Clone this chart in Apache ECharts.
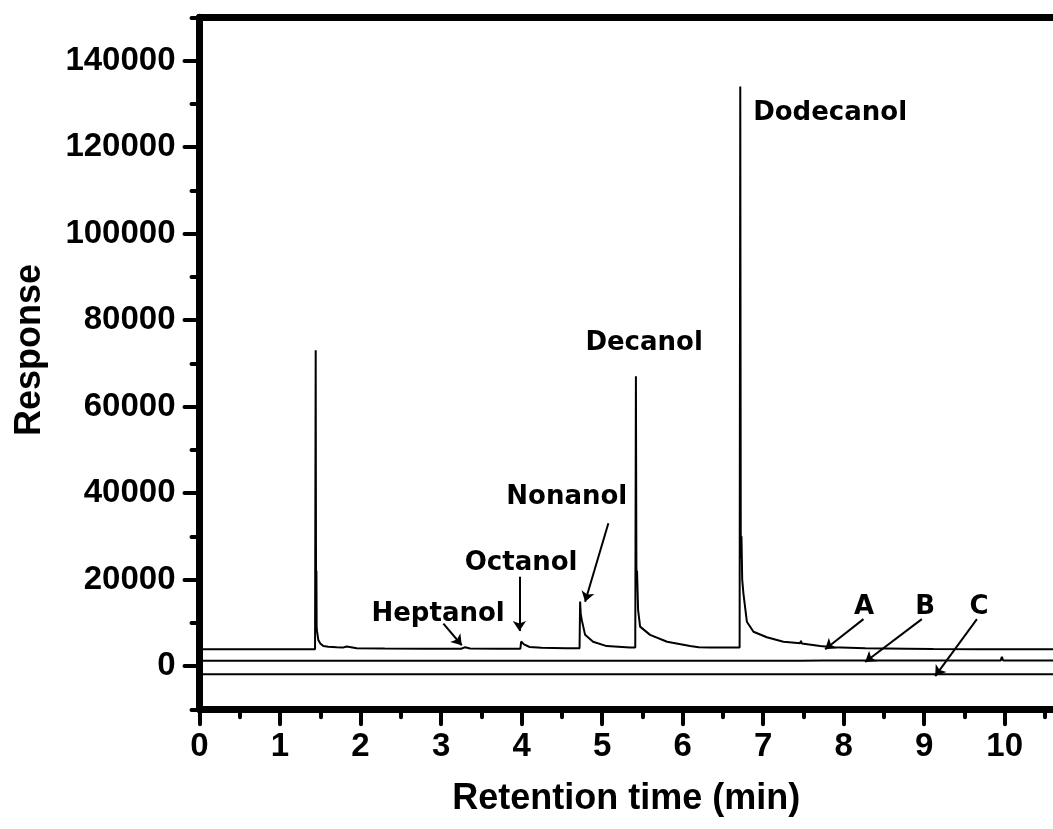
<!DOCTYPE html>
<html>
<head>
<meta charset="utf-8">
<script src="https://cdn.jsdelivr.net/npm/echarts@6/dist/echarts.min.js"></script>
<style>
  html, body { margin: 0; padding: 0; background: #fff; }
  #chart { width: 1053px; height: 829px; }
</style>
</head>
<body>
<div id="chart"></div>
<script>
// ---- data (retention time in min, response) ----
const xTicks = [0, 1, 2, 3, 4, 5, 6, 7, 8, 9, 10];
const xMinorTicks = [0.5, 1.5, 2.5, 3.5, 4.5, 5.5, 6.5, 7.5, 8.5, 9.5, 10.5];
const yTicks = [0, 20000, 40000, 60000, 80000, 100000, 120000, 140000];
const yMinorTicks = [-10000, 10000, 30000, 50000, 70000, 90000, 110000, 130000, 150000];

const seriesA = [
  [0, 3900], [1.435, 3900], [1.443, 73000], [1.447, 22600], [1.450, 18000], [1.452, 22000],
  [1.455, 9000], [1.46, 8000],
  [1.476, 6000], [1.50, 5200], [1.538, 4600], [1.60, 4450], [1.704, 4320], [1.78, 4250],
  [1.786, 4000], [1.80, 4250], [1.828, 4500], [1.85, 4250], [1.953, 4100], [2.3, 4050],
  [2.8, 4000], [3.25, 4000], [3.30, 4350], [3.36, 4050], [3.70, 4000], [3.985, 4000],
  [3.995, 5650], [4.03, 5000], [4.10, 4400], [4.25, 4200], [4.55, 4100], [4.72, 4100],
  [4.727, 14900], [4.735, 12000], [4.748, 10600], [4.789, 7200], [4.888, 5600], [5.058, 4600],
  [5.345, 4300], [5.412, 4250], [5.420, 67000], [5.426, 23000], [5.430, 20000], [5.434, 22000],
  [5.447, 13000], [5.472, 9100],
  [5.596, 7200], [5.807, 5600], [6.093, 4600], [6.20, 4350], [6.342, 4300], [6.708, 4250],
  [6.716, 134000], [6.722, 31000], [6.727, 25000], [6.731, 30000], [6.740, 20000], [6.755, 16800],
  [6.798, 10240], [6.880, 7930],
  [7.046, 6640], [7.252, 5620], [7.46, 5250], [7.47, 5800], [7.48, 5200], [7.708, 4620],
  [7.870, 4320], [8.27, 4090], [8.28, 4400], [8.29, 4090], [8.785, 4000], [8.79, 4300],
  [8.80, 4000], [9.112, 3930], [9.70, 3900], [9.71, 4200], [9.72, 3900], [9.88, 3880],
  [9.89, 4200], [9.90, 3880], [10.15, 3870], [10.16, 4300], [10.17, 3870], [10.6, 3860]
];

const seriesB = [
  [0, 1200], [1.74, 1200], [1.745, 1500], [1.75, 1200], [2.26, 1200], [2.265, 1500],
  [2.27, 1200], [7.46, 1200], [7.465, 1500], [7.47, 1250], [7.75, 1250], [7.755, 1550],
  [7.76, 1250], [8.76, 1250], [8.77, 1550], [8.78, 1250], [9.95, 1250], [9.965, 2150],
  [9.98, 1300], [10.6, 1300]
];

const seriesC = [
  [0, -1900], [10.6, -1900]
];

const peakLabels = ['Heptanol', 'Octanol', 'Nonanol', 'Decanol', 'Dodecanol', 'A', 'B', 'C'];
const labelPos = [
  [2.963, 12020], [3.994, 23820], [4.561, 38960], [5.522, 74680],
  [7.832, 127860], [8.255, 13640], [9.012, 13640], [9.683, 13640]
];
const arrowFrom = [
  [3.029, 9810], [3.973, 20650], [5.078, 33000], null, null,
  [8.246, 10840], [8.971, 10840], [9.655, 10840]
];
const arrowTo = [
  [3.257, 4800], [3.973, 8100], [4.789, 14850], null, null,
  [7.770, 3870], [8.267, 930], [9.137, -2320]
];

// ---- chart ----
const black = '#000000';
const tickFont = { color: black, fontFamily: 'Liberation Sans', fontWeight: 'bold', fontSize: 33 };

const lineSeries = (data, extra) => Object.assign({
  type: 'line', data: data, xAxisIndex: 0, yAxisIndex: 0,
  showSymbol: false, symbol: 'none', animation: false,
  lineStyle: { color: black, width: 2 }, z: 3
}, extra || {});

const arrowData = [];
for (let i = 0; i < peakLabels.length; i++) {
  if (arrowFrom[i] && arrowTo[i]) {
    arrowData.push([{ coord: arrowFrom[i] }, { coord: arrowTo[i] }]);
  }
}

const option = {
  backgroundColor: '#fff',
  animation: false,
  grid: { left: 199.5, right: 0, top: 17.25, bottom: 119.75, containLabel: false },
  xAxis: [
    {
      type: 'value', min: 0, max: 10.6, position: 'bottom',
      axisLine: { show: true, onZero: false, lineStyle: { color: black, width: 7 } },
      axisTick: { show: true, inside: false, length: 15, customValues: xTicks,
                  lineStyle: { color: black, width: 4, cap: 'round' } },
      axisLabel: { show: true, margin: 21, customValues: xTicks, formatter: (v) => String(v), ...tickFont },
      splitLine: { show: false },
      name: 'Retention time (min)', nameLocation: 'middle', nameGap: 72,
      nameTextStyle: { color: black, fontFamily: 'Liberation Sans', fontWeight: 'bold', fontSize: 36 }
    },
    {
      type: 'value', min: 0, max: 10.6, position: 'bottom',
      axisLine: { show: false, onZero: false },
      axisTick: { show: true, inside: false, length: 8, customValues: xMinorTicks,
                  lineStyle: { color: black, width: 4, cap: 'round' } },
      axisLabel: { show: false },
      splitLine: { show: false }
    },
    {
      type: 'value', min: 0, max: 10.6, position: 'top',
      axisLine: { show: true, onZero: false, lineStyle: { color: black, width: 7 } },
      axisTick: { show: false }, axisLabel: { show: false }, splitLine: { show: false }
    }
  ],
  yAxis: [
    {
      type: 'value', min: -10000, max: 150000, position: 'left',
      axisLine: { show: true, onZero: false, lineStyle: { color: black, width: 7 } },
      axisTick: { show: true, inside: false, length: 15, customValues: yTicks,
                  lineStyle: { color: black, width: 4, cap: 'round' } },
      axisLabel: { show: true, margin: 24, customValues: yTicks, formatter: (v) => String(v), ...tickFont },
      splitLine: { show: false }
    },
    {
      type: 'value', min: -10000, max: 150000, position: 'left',
      axisLine: { show: false, onZero: false },
      axisTick: { show: true, inside: false, length: 8, customValues: yMinorTicks,
                  lineStyle: { color: black, width: 4, cap: 'round' } },
      axisLabel: { show: false },
      splitLine: { show: false }
    }
  ],
  series: [
    lineSeries(seriesA, {
      markLine: {
        silent: true, animation: false,
        symbol: ['none', 'arrow'], symbolSize: 10,
        lineStyle: { color: black, width: 2, type: 'solid' },
        label: { show: false },
        emphasis: { disabled: true },
        data: arrowData
      }
    }),
    lineSeries(seriesB),
    lineSeries(seriesC)
  ]
};

const chart = echarts.init(document.getElementById('chart'), null, { renderer: 'canvas' });
chart.setOption(option);

// text labels placed through the chart's own scales
const graphics = [
  {
    type: 'text', x: 30, y: 350, rotation: Math.PI / 2,
    style: { text: 'Response', fill: black, font: 'bold 36px "Liberation Sans"',
             textAlign: 'center', textVerticalAlign: 'middle' }
  }
];
peakLabels.forEach((name, i) => {
  const p = chart.convertToPixel({ xAxisIndex: 0, yAxisIndex: 0 }, labelPos[i]);
  graphics.push({
    type: 'text', x: p[0], y: p[1], z: 10,
    style: { text: name, fill: black, font: 'bold 26px "DejaVu Sans"',
             textAlign: 'center', textVerticalAlign: 'middle' }
  });
});
chart.setOption({ graphic: graphics });
</script>
</body>
</html>
